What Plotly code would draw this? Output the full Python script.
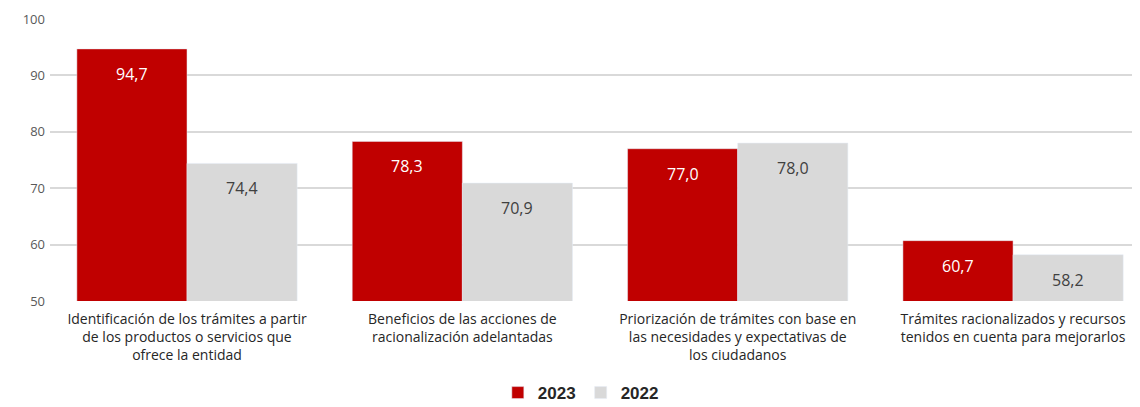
import plotly.graph_objects as go

categories = [
    "Identificación de los trámites a partir<br>de los productos o servicios que<br>ofrece la entidad",
    "Beneficios de las acciones de<br>racionalización adelantadas",
    "Priorización de trámites con base en<br>las necesidades y expectativas de<br>los ciudadanos",
    "Trámites racionalizados y recursos<br>tenidos en cuenta para mejorarlos",
]
values_2023 = [94.7, 78.3, 77.0, 60.7]
values_2022 = [74.4, 70.9, 78.0, 58.2]
y_ticks = [50, 60, 70, 80, 90, 100]

RED = "#C00000"
GRAY = "#D9D9D9"
FONT = "'Open Sans', sans-serif"

x_idx = list(range(len(categories)))

fig = go.Figure()
fig.add_trace(go.Bar(x=x_idx, y=values_2023, name="<b>2023</b>", marker_color=RED))
fig.add_trace(go.Bar(x=x_idx, y=values_2022, name="<b>2022</b>", marker_color=GRAY))

def fmt(v):
    return f"{v:.1f}".replace(".", ",")

annotations = []
for i, v in enumerate(values_2023):
    annotations.append(dict(x=i - 0.2, y=v, xref="x", yref="y", text=fmt(v),
                            showarrow=False, yshift=-25,
                            font=dict(family=FONT, size=16, color="white")))
for i, v in enumerate(values_2022):
    annotations.append(dict(x=i + 0.2, y=v, xref="x", yref="y", text=fmt(v),
                            showarrow=False, yshift=-25,
                            font=dict(family=FONT, size=16, color="#404040")))

fig.update_layout(
    width=1132, height=399,
    margin=dict(l=42, r=0, t=11, b=106),
    plot_bgcolor="white", paper_bgcolor="white",
    barmode="group", bargap=0.2, bargroupgap=0,
    showlegend=True,
    legend=dict(orientation="h", x=0.487, xanchor="center", y=0.035, yanchor="middle",
                yref="container",
                font=dict(family="Liberation Sans, Arial, sans-serif", size=17, color="#262626"),
                itemwidth=30, traceorder="normal"),
    annotations=annotations,
    xaxis=dict(
        tickmode="array", tickvals=x_idx, ticktext=categories,
        range=[-0.4976, 3.461], showgrid=False, zeroline=False, showline=False,
        ticks="", tickfont=dict(family=FONT, size=14, color="#262626"),
        ticklabelstandoff=8,
    ),
    yaxis=dict(
        range=[50, 100], tickvals=y_ticks, showgrid=True, gridcolor="#D9D9D9",
        gridwidth=1.5, zeroline=False, showline=False, ticks="",
        tickfont=dict(family=FONT, size=13, color="#595959"), ticklabelstandoff=4,
    ),
)

fig.write_html("out.html")
